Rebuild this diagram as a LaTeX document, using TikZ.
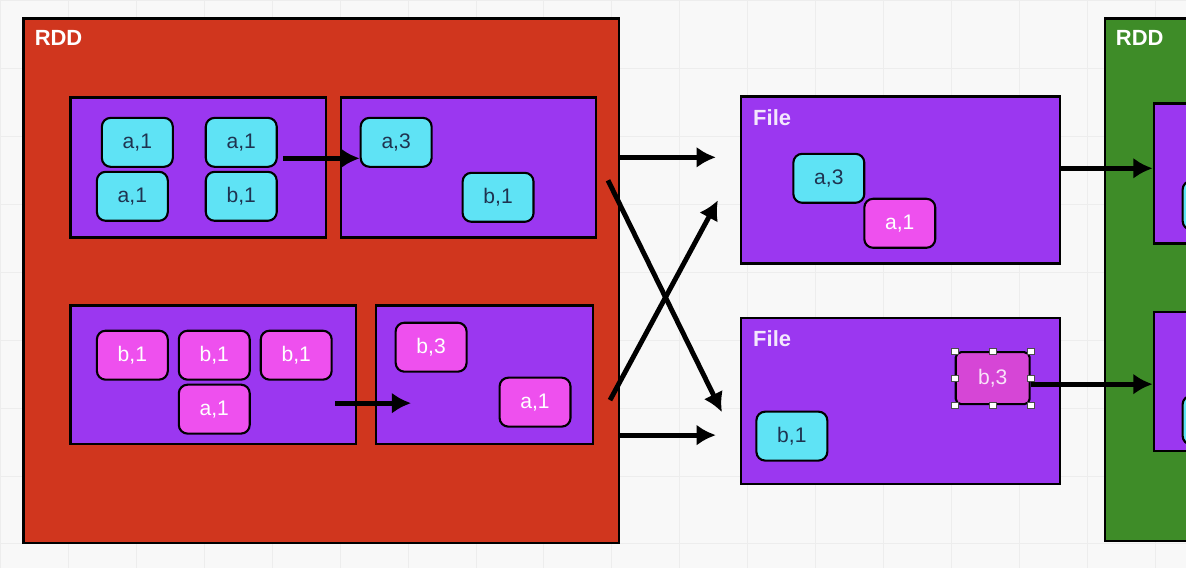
\documentclass[tikz,border=0pt]{standalone}
\usepackage{fontspec}
\setmainfont{Liberation Sans}
\usetikzlibrary{positioning,arrows.meta}
\definecolor{rddred}{HTML}{D0361E}
\definecolor{rddgreen}{HTML}{3E8C28}
\definecolor{partpurple}{HTML}{9B37F0}
\definecolor{reccyan}{HTML}{5FE3F5}
\definecolor{recpink}{HTML}{EE50EE}
\definecolor{recsel}{HTML}{D646D6}
\definecolor{inkdark}{HTML}{1F3350}
\definecolor{paper}{HTML}{F8F8F8}
\tikzset{
  rdd/.style={draw=black, line width=1.4pt, anchor=north west, inner sep=0pt},
  part/.style={draw=black, line width=1.3pt, fill=partpurple, anchor=north west, inner sep=0pt},
  rec/.style={draw=black, line width=1.2pt, rounded corners=5pt, minimum width=1.42cm, minimum height=0.98cm, inner sep=0pt, font=\fontsize{12}{14}\selectfont},
  cyanrec/.style={rec, fill=reccyan, text=inkdark},
  pinkrec/.style={rec, fill=recpink, text=white},
  flow/.style={-{Latex[length=11pt,width=12pt]}, line width=2.8pt},
  title/.style={text=white, font=\fontsize{12.5}{14}\selectfont\bfseries, anchor=west, inner sep=0pt},
  handle/.style={draw=black!70, fill=white, line width=0.4pt, minimum size=0.13cm, inner sep=0pt}
}
\begin{document}
\begin{tikzpicture}[x=0.02cm, y=-0.02cm]
% page and grid
\fill[paper] (0,0) rectangle (1186,568);
\draw[black!7, line width=0.5pt, xstep=1.36cm, ystep=1.36cm] (0,0) grid (1186,568);
\useasboundingbox (0,0) rectangle (1186,568);

% left RDD
\node[rdd, fill=rddred, minimum width=11.92cm, minimum height=10.5cm] (rddA) at (22,17) {};
\node[title] (rddAt) at (34,38) {RDD};
\node[part, minimum width=5.12cm, minimum height=2.8cm] (pA) at (69,96) {};
\node[part, minimum width=5.1cm, minimum height=2.8cm] (pB) at (340,96) {};
\node[part, minimum width=5.72cm, minimum height=2.78cm] (pC) at (69,304) {};
\node[part, minimum width=4.34cm, minimum height=2.78cm] (pD) at (375,304) {};

\node[cyanrec] (a1) at (137,142) {a,1};
\node[cyanrec] (a2) at (241,142) {a,1};
\node[cyanrec] (a3) at (132,196) {a,1};
\node[cyanrec] (b1) at (241,196) {b,1};
\node[cyanrec] (a4) at (396,142) {a,3};
\node[cyanrec] (b2) at (498,197) {b,1};
\draw[flow] (283,158) -- (a4.west |- 0,158);

\node[pinkrec] (b3) at (132,355) {b,1};
\node[pinkrec] (b4) at (214,355) {b,1};
\node[pinkrec] (b5) at (296,355) {b,1};
\node[pinkrec] (a5) at (214,409) {a,1};
\node[pinkrec] (b6) at (431,347) {b,3};
\node[pinkrec] (a6) at (535,402) {a,1};
\coordinate (cmove) at (335,403);
\draw[flow] (cmove) -- +(76,0);

% files
\node[part, minimum width=6.38cm, minimum height=3.34cm] (fA) at (740,95) {};
\node[title, text=white!88!partpurple] (fAt) at (753,117) {File};
\node[cyanrec] (a7) at (829,178) {a,3};
\node[pinkrec] (a8) at (900,223) {a,1};

\node[part, minimum width=6.38cm, minimum height=3.32cm] (fB) at (740,317) {};
\node[title, text=white!88!partpurple] (fBt) at (753,338) {File};
\node[rec, fill=recsel, text=white!85!recsel, minimum width=1.48cm, minimum height=1.04cm, rounded corners=3pt] (b7) at (993,378) {b,3};
\foreach \p in {north west,north,north east,west,east,south west,south,south east}
  \node[handle] at (b7.\p) {};
\node[cyanrec] (b8) at (792,436) {b,1};

% shuffle arrows
\coordinate (fAin1) at (716,157);
\coordinate (fAin2) at (718,200);
\coordinate (fBin1) at (722,412);
\coordinate (fBin2) at (716,435);
\draw[flow] (rddA.east |- fAin1) -- (fAin1);
\draw[flow] (rddA.east |- fBin2) -- (fBin2);
\draw[flow] (608,180) -- (fBin1);
\draw[flow] (610,400) -- (fAin2);

% right RDD
\node[rdd, fill=rddgreen, minimum width=3cm, minimum height=10.46cm] (rddB) at (1104,17) {};
\node[title] (rddBt) at (1116,38) {RDD};
\node[part, minimum width=2cm, minimum height=2.8cm] (pE) at (1153,102) {};
\node[part, minimum width=2cm, minimum height=2.78cm] (pF) at (1153,311) {};
\node[cyanrec, anchor=west] (cE) at (1182,205) {};
\node[cyanrec, anchor=west] (cF) at (1182,420) {};
\draw[flow] (fA.east |- 0,168) -- (pE.west |- 0,168);
\draw[flow] (b7.east |- 0,384) -- (pF.west |- 0,384);
\end{tikzpicture}
\end{document}
